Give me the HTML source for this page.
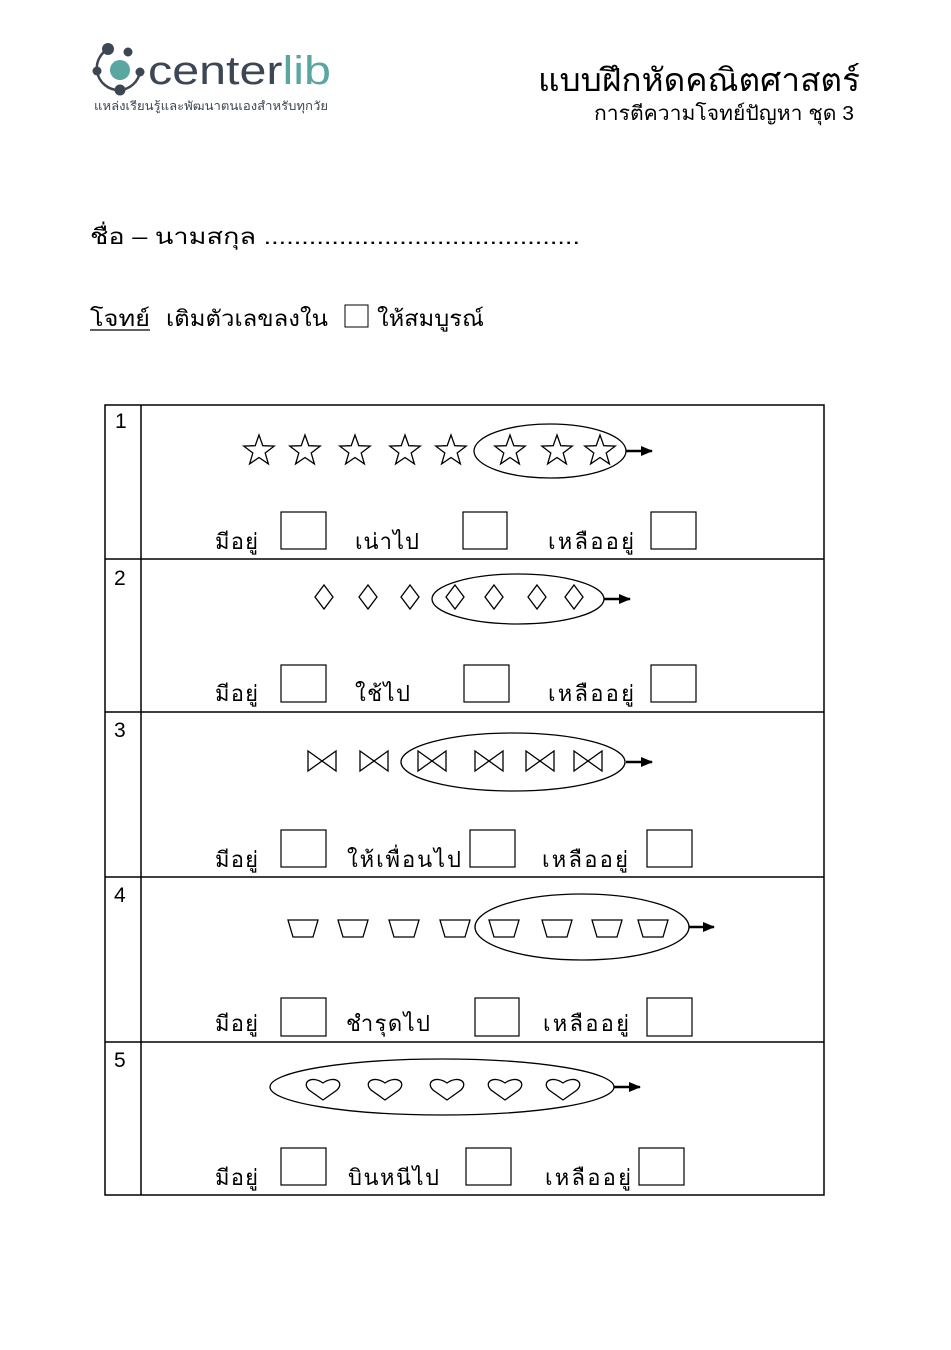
<!DOCTYPE html>
<html><head><meta charset="utf-8">
<style>
html,body{margin:0;padding:0;background:#fff;}
body{width:951px;height:1345px;position:relative;overflow:hidden;font-family:"Liberation Sans","DejaVu Sans",sans-serif;}
svg text{font-family:"Liberation Sans","DejaVu Sans",sans-serif;}
</style></head><body>
<svg width="951" height="1345" viewBox="0 0 951 1345" xmlns="http://www.w3.org/2000/svg">
<defs>
<polygon id="st" points="0,-16 3.8,-5.3 15.2,-4.9 6.2,2 9.4,12.9 0,6.5 -9.4,12.9 -6.2,2 -15.2,-4.9 -3.8,-5.3" fill="none" stroke="#000" stroke-width="1.3"/>
<polygon id="dm" points="0,-12 9,0 0,12 -9,0" fill="none" stroke="#000" stroke-width="1.3"/>
<polygon id="bt" points="-14,-10 14,10 14,-10 -14,10" fill="none" stroke="#000" stroke-width="1.3"/>
<polygon id="tz" points="-15,-8 15,-8 10,9 -10,9" fill="none" stroke="#000" stroke-width="1.3"/>
<path id="ht" d="M0,10 L-14,0 C-22,-8 -11,-15 0,-7 C11,-15 22,-8 14,0 Z" fill="none" stroke="#000" stroke-width="1.3"/>
<marker id="ar" markerWidth="12" markerHeight="10" refX="11" refY="5" orient="auto" markerUnits="userSpaceOnUse"><path d="M0,0 L12,5 L0,10 Z" fill="#000"/></marker>
</defs>
<!-- logo -->
<g fill="#3d4753">
<circle cx="108" cy="49" r="6"/><circle cx="128" cy="52" r="4.5"/><circle cx="97" cy="71" r="4.5"/><circle cx="140" cy="72" r="4.5"/><circle cx="120" cy="90" r="5.5"/>
</g>
<path d="M108,49 A22,22 0 0 0 97,71 M97,71 A22,22 0 0 0 120,90 M120,90 A22,22 0 0 0 140,72" fill="none" stroke="#3d4753" stroke-width="2.5"/>
<circle cx="120" cy="70" r="10" fill="#5aa6a0"/>
<text x="148" y="84" font-size="40" fill="#3d4753" textLength="183" lengthAdjust="spacingAndGlyphs">center<tspan fill="#5aa6a0">lib</tspan></text>
<text x="94" y="110" font-size="12" fill="#3d4753" textLength="234" lengthAdjust="spacingAndGlyphs">แหล่งเรียนรู้และพัฒนาตนเองสำหรับทุกวัย</text>
<!-- title -->
<text x="538" y="91" font-size="32" fill="#000" textLength="322" lengthAdjust="spacingAndGlyphs">แบบฝึกหัดคณิตศาสตร์</text>
<text x="594" y="120" font-size="20" fill="#000" textLength="260" lengthAdjust="spacingAndGlyphs">การตีความโจทย์ปัญหา ชุด 3</text>
<text x="90" y="244" font-size="22" textLength="490" lengthAdjust="spacingAndGlyphs">ชื่อ – นามสกุล ..........................................</text>
<text x="90" y="326" font-size="22" textLength="60" lengthAdjust="spacingAndGlyphs">โจทย์</text>
<line x1="90" y1="330" x2="150" y2="330" stroke="#000" stroke-width="1.3"/>
<text x="166" y="326" font-size="22" textLength="162" lengthAdjust="spacingAndGlyphs">เติมตัวเลขลงใน</text>
<rect x="345" y="305" width="23" height="22" fill="none" stroke="#000" stroke-width="1"/>
<text x="377" y="326" font-size="22" textLength="107" lengthAdjust="spacingAndGlyphs">ให้สมบูรณ์</text>
<!-- table -->
<g stroke="#000" stroke-width="1.5" fill="none">
<rect x="105" y="405" width="719" height="790"/>
<line x1="141" y1="405" x2="141" y2="1195"/>
<line x1="105" y1="559" x2="824" y2="559"/>
<line x1="105" y1="712" x2="824" y2="712"/>
<line x1="105" y1="877" x2="824" y2="877"/>
<line x1="105" y1="1042" x2="824" y2="1042"/>
</g>
<g font-size="21">
<text x="115" y="428">1</text><text x="114" y="585">2</text><text x="114" y="737">3</text><text x="114" y="902">4</text><text x="114" y="1067">5</text>
</g>
<!-- row1 -->
<g><use href="#st" x="259" y="451"/><use href="#st" x="305" y="451"/><use href="#st" x="355" y="451"/><use href="#st" x="405" y="451"/><use href="#st" x="451" y="451"/><use href="#st" x="510" y="451"/><use href="#st" x="557" y="451"/><use href="#st" x="600" y="451"/></g>
<ellipse cx="550" cy="451" rx="76" ry="27" fill="none" stroke="#000" stroke-width="1.3"/>
<line x1="626" y1="451" x2="652" y2="451" stroke="#000" stroke-width="2.5" marker-end="url(#ar)"/>
<!-- row2 -->
<g><use href="#dm" x="324" y="597"/><use href="#dm" x="368" y="597"/><use href="#dm" x="410" y="597"/><use href="#dm" x="455" y="597"/><use href="#dm" x="494" y="597"/><use href="#dm" x="537" y="597"/><use href="#dm" x="574" y="597"/></g>
<ellipse cx="518" cy="599" rx="86" ry="25" fill="none" stroke="#000" stroke-width="1.3"/>
<line x1="604" y1="599" x2="630" y2="599" stroke="#000" stroke-width="2.5" marker-end="url(#ar)"/>
<!-- row3 -->
<g><use href="#bt" x="322" y="761"/><use href="#bt" x="374" y="761"/><use href="#bt" x="432" y="761"/><use href="#bt" x="489" y="761"/><use href="#bt" x="540" y="761"/><use href="#bt" x="588" y="761"/></g>
<ellipse cx="513" cy="762" rx="112" ry="29" fill="none" stroke="#000" stroke-width="1.3"/>
<line x1="626" y1="762" x2="652" y2="762" stroke="#000" stroke-width="2.5" marker-end="url(#ar)"/>
<!-- row4 -->
<g><use href="#tz" x="303" y="928"/><use href="#tz" x="353" y="928"/><use href="#tz" x="404" y="928"/><use href="#tz" x="455" y="928"/><use href="#tz" x="504" y="928"/><use href="#tz" x="557" y="928"/><use href="#tz" x="607" y="928"/><use href="#tz" x="653" y="928"/></g>
<ellipse cx="582" cy="927" rx="107" ry="33" fill="none" stroke="#000" stroke-width="1.3"/>
<line x1="689" y1="927" x2="714" y2="927" stroke="#000" stroke-width="2.5" marker-end="url(#ar)"/>
<!-- row5 -->
<g><use href="#ht" x="323" y="1090"/><use href="#ht" x="385" y="1090"/><use href="#ht" x="447" y="1090"/><use href="#ht" x="505" y="1090"/><use href="#ht" x="563" y="1090"/></g>
<ellipse cx="442" cy="1087" rx="172" ry="28" fill="none" stroke="#000" stroke-width="1.3"/>
<line x1="614" y1="1087" x2="640" y2="1087" stroke="#000" stroke-width="2.5" marker-end="url(#ar)"/>
<!-- answer boxes -->
<g stroke="#000" stroke-width="1.2" fill="none">
<rect x="281" y="512" width="45" height="37"/><rect x="463" y="512" width="44" height="37"/><rect x="651" y="512" width="45" height="37"/>
<rect x="281" y="665" width="45" height="37"/><rect x="464" y="665" width="45" height="37"/><rect x="651" y="665" width="45" height="37"/>
<rect x="281" y="830" width="45" height="37"/><rect x="470" y="830" width="45" height="37"/><rect x="647" y="830" width="45" height="37"/>
<rect x="281" y="998" width="45" height="38"/><rect x="475" y="998" width="44" height="38"/><rect x="647" y="998" width="45" height="38"/>
<rect x="281" y="1148" width="45" height="37"/><rect x="466" y="1148" width="45" height="37"/><rect x="639" y="1148" width="45" height="37"/>
</g>
<g font-size="22" lengthAdjust="spacingAndGlyphs">
<text x="215" y="549" textLength="43">มีอยู่</text><text x="355" y="549" textLength="64">เน่าไป</text><text x="548" y="549" textLength="86">เหลืออยู่</text>
<text x="215" y="701" textLength="43">มีอยู่</text><text x="355" y="701" textLength="55">ใช้ไป</text><text x="548" y="701" textLength="86">เหลืออยู่</text>
<text x="215" y="867" textLength="43">มีอยู่</text><text x="347" y="867" textLength="114">ให้เพื่อนไป</text><text x="542" y="867" textLength="86">เหลืออยู่</text>
<text x="215" y="1031" textLength="43">มีอยู่</text><text x="346" y="1031" textLength="84">ชำรุดไป</text><text x="543" y="1031" textLength="86">เหลืออยู่</text>
<text x="215" y="1185" textLength="43">มีอยู่</text><text x="348" y="1185" textLength="91">บินหนีไป</text><text x="545" y="1185" textLength="86">เหลืออยู่</text>
</g>
</svg>
</body></html>
